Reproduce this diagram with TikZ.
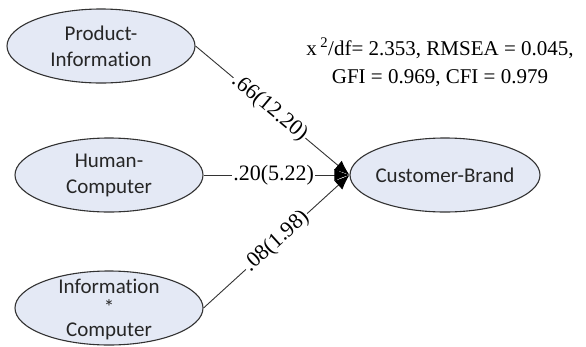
\documentclass[tikz,border=0pt]{standalone}
\usepackage{fontspec}
\setmainfont{Liberation Serif}
\newfontfamily\calfont[RawFeature=-liga]{Carlito}
\usetikzlibrary{shapes.geometric,arrows.meta}
\definecolor{ellfill}{RGB}{228,233,245}
\definecolor{ellline}{RGB}{50,50,50}
\begin{document}
\begin{tikzpicture}[x=1pt,y=-1pt,
  latent/.style={ellipse, draw=ellline, line width=1.1pt, fill=ellfill,
    minimum width=188pt, minimum height=74pt, inner sep=0pt},
  etext/.style={font=\calfont\fontsize{21}{26}\selectfont, text=black!85,
    align=center, inner sep=0pt},
  pathline/.style={draw=black!80, line width=0.9pt,
    -{Latex[length=15pt,width=12pt,black]}},
  coef/.style={font=\fontsize{22}{24}\selectfont, fill=white,
    inner sep=1pt, sloped, pos=0.48}]
\useasboundingbox (0,0) rectangle (586,346);
\node[latent] (pi) at (101,46) {};
\node[etext] (pit) at (pi.center) {Product-\\Information};
\node[latent] (hc) at (109,175) {};
\node[etext] (hct) at (hc.center) {Human-\\Computer};
\node[latent] (ic) at (109,308) {};
\node[etext, font=\calfont\fontsize{21}{21.5}\selectfont] (ict) at ([yshift=-1pt]ic.center) {Information\\*\\Computer};
\node[latent, minimum width=190pt] (cb) at (445,175) {};
\node[etext] (cbt) at (cb.center) {Customer-Brand};
\path[pathline] (pi.east) -- node[coef] (c1) {.66(12.20)} (cb.west);
\path[pathline] (hc.east) -- node[coef] (c2) {.20(5.22)} (cb.west);
\path[pathline] (ic.east) -- node[coef, pos=0.5] (c3) {.08(1.98)} (cb.west);
\node[font=\fontsize{21}{28}\selectfont, align=center, inner sep=0pt] (fit) at (440,62)
  {x\,\textsuperscript{2}/df= 2.353, RMSEA = 0.045,\\GFI = 0.969, CFI = 0.979};
\end{tikzpicture}
\end{document}
